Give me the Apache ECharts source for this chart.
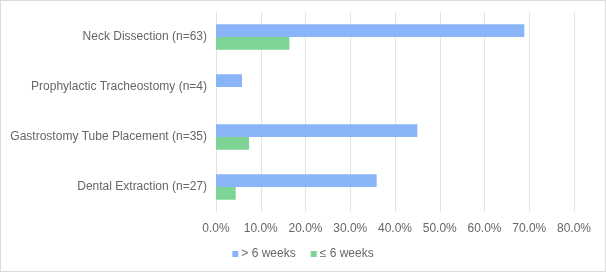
<!DOCTYPE html>
<html><head><meta charset="utf-8">
<script src="https://cdn.jsdelivr.net/npm/echarts@6/dist/echarts.min.js"></script>
<style>
html,body{margin:0;padding:0;background:#fff;}
#c{position:absolute;left:0;top:0;width:604px;height:270px;border:1px solid #dcdcdc;}
</style></head>
<body><div id="c"></div>
<script>
const categories = ["Neck Dissection (n=63)", "Prophylactic Tracheostomy (n=4)", "Gastrostomy Tube Placement (n=35)", "Dental Extraction (n=27)"];
const seriesNames = ["> 6 weeks", "\u2264 6 weeks"];
const over6 = [68.9, 5.8, 45.0, 35.9];
const under6 = [16.4, 0, 7.4, 4.4];
const xTicks = [0, 10, 20, 30, 40, 50, 60, 70, 80];

const chart = echarts.init(document.getElementById('c'), null, {renderer: 'canvas'});
const font = 'Liberation Sans, Arial, sans-serif';
chart.setOption({
  animation: false,
  textStyle: {fontFamily: font},
  grid: {left: 215, right: 31, top: 11, bottom: 59, containLabel: false},
  legend: {
    bottom: 6, left: 'center',
    itemWidth: 6, itemHeight: 6, itemGap: 15,
    icon: 'rect',
    textStyle: {color: '#666', fontSize: 12, fontFamily: font, padding: [0,0,0,-2]},
    data: seriesNames
  },
  xAxis: {
    type: 'value', min: xTicks[0], max: xTicks[xTicks.length-1], interval: 10,
    axisLine: {show: false}, axisTick: {show: false},
    splitLine: {lineStyle: {color: '#e3e3e3', width: 1}},
    axisLabel: {color: '#666', fontSize: 12, margin: 11, fontFamily: font,
      formatter: v => v.toFixed(1) + '%'}
  },
  yAxis: {
    type: 'category', data: categories, inverse: true,
    axisLine: {show: false}, axisTick: {show: false},
    axisLabel: {color: '#666', fontSize: 12, margin: 9, fontFamily: font}
  },
  series: [
    {name: seriesNames[0], type: 'bar', data: over6, barGap: '0%', barCategoryGap: '49%',
     itemStyle: {color: '#8ab4f8'}},
    {name: seriesNames[1], type: 'bar', data: under6, barGap: '0%', barCategoryGap: '49%',
     itemStyle: {color: '#7ed495'}}
  ]
});
</script></body></html>
